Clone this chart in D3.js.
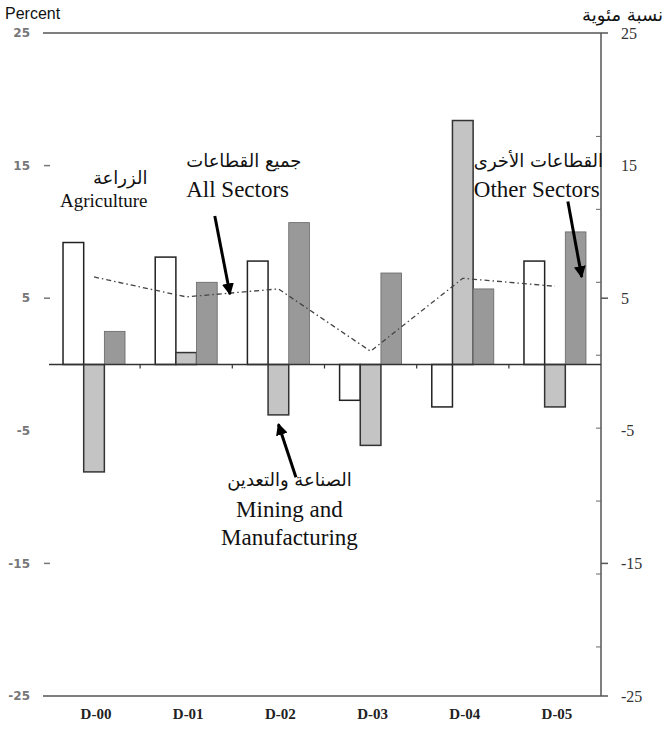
<!DOCTYPE html>
<html>
<head>
<meta charset="utf-8">
<script src="https://cdn.jsdelivr.net/npm/d3@7"></script>
<style>
  body { margin: 0; background: #fff; }
  svg { display: block; }
</style>
</head>
<body>
<script>
// periods and series
const periods = ["D-00", "D-01", "D-02", "D-03", "D-04", "D-05"];
const series = ["Agriculture", "Mining", "Other"];
const agriculture = [9.2, 8.1, 7.8, -2.7, -3.2, 7.8];
const mining = [-8.1, 0.9, -3.8, -6.1, 18.4, -3.2];
const other = [2.5, 6.2, 10.7, 6.9, 5.7, 10.0];
const allSectors = [6.6, 5.1, 5.7, 1.0, 6.5, 5.9];
const tickValues = [25, 15, 5, -5, -15, -25];
const minorTicks = [17.2, 11.7, 6.2, 0.7, -4.8, -10.3, -15.8, -21.3];

const width = 666, height = 740;
const fills = {Agriculture: "#ffffff", Mining: "#c4c4c4", Other: "#999999"};
const strokes = {Agriculture: "#222", Mining: "#333", Other: "#666"};

const svg = d3.select("body").append("svg")
    .attr("width", width)
    .attr("height", height);

const y = d3.scaleLinear().domain([-25, 25]).range([696, 33]);
const x = d3.scaleBand().domain(periods).range([48, 601])
    .paddingInner(0.3275).paddingOuter(0.163);
const xs = d3.scaleBand().domain(series).range([0, x.bandwidth()]);
// group centre in "period units", used for the line and notes
const gx = d3.scaleLinear().domain([0, periods.length - 1])
    .range([x(periods[0]) + x.bandwidth() / 2, x(periods[periods.length - 1]) + x.bandwidth() / 2]);

const rows = periods.map((p, i) => ({
  period: p,
  values: [
    {key: "Agriculture", v: agriculture[i]},
    {key: "Mining", v: mining[i]},
    {key: "Other", v: other[i]}
  ]
}));

// frame lines
svg.append("line").attr("x1", 43).attr("x2", 608).attr("y1", y(25)).attr("y2", y(25))
    .attr("stroke", "#555").attr("stroke-width", 1.5);
svg.append("line").attr("x1", 43).attr("x2", 608).attr("y1", y(-25)).attr("y2", y(-25))
    .attr("stroke", "#555").attr("stroke-width", 1.5);
svg.append("line").attr("x1", 601).attr("x2", 601).attr("y1", y(25)).attr("y2", y(-25))
    .attr("stroke", "#555").attr("stroke-width", 1.5);

// minor ticks inside right axis
svg.append("g").selectAll("line").data(minorTicks).join("line")
    .attr("x1", 596).attr("x2", 601)
    .attr("y1", d => y(d)).attr("y2", d => y(d))
    .attr("stroke", "#666").attr("stroke-width", 1);

// outer ticks
svg.append("g").selectAll("line").data([5, -15]).join("line")
    .attr("x1", 601).attr("x2", 608)
    .attr("y1", d => y(d)).attr("y2", d => y(d))
    .attr("stroke", "#555").attr("stroke-width", 1.5);
svg.append("g").selectAll("line").data([15, 5, -15]).join("line")
    .attr("x1", 44).attr("x2", 50)
    .attr("y1", d => y(d)).attr("y2", d => y(d))
    .attr("stroke", "#777").attr("stroke-width", 1.5);

// tick labels
svg.append("g").selectAll("text").data(tickValues).join("text")
    .attr("x", 30).attr("y", d => y(d)).attr("dy", "0.35em")
    .attr("text-anchor", "end")
    .style("font", "bold 12px 'DejaVu Sans'")
    .attr("fill", "#777")
    .text(d => d);
svg.append("g").selectAll("text").data(tickValues).join("text")
    .attr("x", 621).attr("y", d => y(d)).attr("dy", "0.35em")
    .style("font", "16px 'Liberation Serif'")
    .attr("fill", "#333")
    .text(d => d);

// bars
const group = svg.append("g").selectAll("g").data(rows).join("g")
    .attr("transform", d => `translate(${x(d.period)},0)`);
group.selectAll("rect").data(d => d.values).join("rect")
    .attr("x", d => xs(d.key))
    .attr("width", xs.bandwidth())
    .attr("y", d => y(Math.max(0, d.v)))
    .attr("height", d => Math.abs(y(d.v) - y(0)))
    .attr("fill", d => fills[d.key])
    .attr("stroke", d => strokes[d.key])
    .attr("stroke-width", d => d.key === "Other" ? 0.8 : 1.5);

// zero line and small ticks between groups
svg.append("line").attr("x1", 49).attr("x2", 601).attr("y1", y(0)).attr("y2", y(0))
    .attr("stroke", "#333").attr("stroke-width", 1.5);
svg.append("g").selectAll("line").data(periods.slice(1)).join("line")
    .attr("x1", d => x(d) - x.step() * x.paddingInner() / 2)
    .attr("x2", d => x(d) - x.step() * x.paddingInner() / 2)
    .attr("y1", y(0)).attr("y2", y(0) + 4)
    .attr("stroke", "#333").attr("stroke-width", 1.2);

// all sectors line
svg.append("path")
    .datum(allSectors)
    .attr("fill", "none")
    .attr("stroke", "#444")
    .attr("stroke-width", 1.3)
    .attr("stroke-dasharray", "5,3,1.5,3")
    .attr("d", d3.line().x((d, i) => gx(i)).y(d => y(d)));

// x labels
svg.append("g").selectAll("text").data(periods).join("text")
    .attr("x", d => x(d) + x.bandwidth() / 2 + 2)
    .attr("y", 719)
    .attr("text-anchor", "middle")
    .style("font", "bold 15px 'Liberation Serif'")
    .attr("fill", "#222")
    .text(d => d);

// titles
svg.append("text").attr("x", 5).attr("y", 19)
    .style("font", "16px 'Liberation Sans'").attr("fill", "#111").text("Percent");
svg.append("text").attr("x", 663).attr("y", 21).attr("text-anchor", "end")
    .style("font", "18px 'DejaVu Sans'").attr("fill", "#111").text("نسبة مئوية");

// annotations (x in period units, baselines in percent)
const notes = [
  {ar: "الزراعة", en: ["Agriculture"], gx: 0.58, anchor: "end", arV: 13.6, enV: [11.9], size: 19},
  {ar: "جميع القطاعات", en: ["All Sectors"], gx: 1.0, anchor: "start", arV: 14.9, enV: [12.6], size: 23},
  {ar: "القطاعات الأخرى", en: ["Other Sectors"], gx: 4.12, anchor: "start", arV: 14.9, enV: [12.6], size: 23},
  {ar: "الصناعة والتعدين", en: ["Mining and", "Manufacturing"], gx: 2.12, anchor: "middle", arV: -9.2, enV: [-11.5, -13.6], size: 23}
];
notes.forEach(n => {
  const cx = gx(n.gx);
  svg.append("text").attr("x", cx).attr("y", y(n.arV)).attr("text-anchor", n.anchor)
      .style("font", "18px 'DejaVu Sans'").attr("fill", "#111").text(n.ar);
  n.en.forEach((t, k) => {
    svg.append("text").attr("x", cx).attr("y", y(n.enV[k])).attr("text-anchor", n.anchor)
        .style("font", `${n.size}px 'Liberation Serif'`).attr("fill", "#111").text(t);
  });
});

const arrows = [
  {from: [1.31, 11.2], to: [1.475, 5.3]},
  {from: [5.14, 12.3], to: [5.29, 6.6]},
  {from: [2.19, -8.5], to: [2.0, -4.5]}
];
svg.append("defs").append("marker")
    .attr("id", "head").attr("viewBox", "0 0 10 10")
    .attr("refX", 9).attr("refY", 5)
    .attr("markerWidth", 4).attr("markerHeight", 4)
    .attr("orient", "auto")
  .append("path").attr("d", "M0,0L10,5L0,10Z").attr("fill", "#000");
svg.append("g").selectAll("line").data(arrows).join("line")
    .attr("x1", d => gx(d.from[0])).attr("y1", d => y(d.from[1]))
    .attr("x2", d => gx(d.to[0])).attr("y2", d => y(d.to[1]))
    .attr("stroke", "#000").attr("stroke-width", 3)
    .attr("marker-end", "url(#head)");
</script>
</body>
</html>
